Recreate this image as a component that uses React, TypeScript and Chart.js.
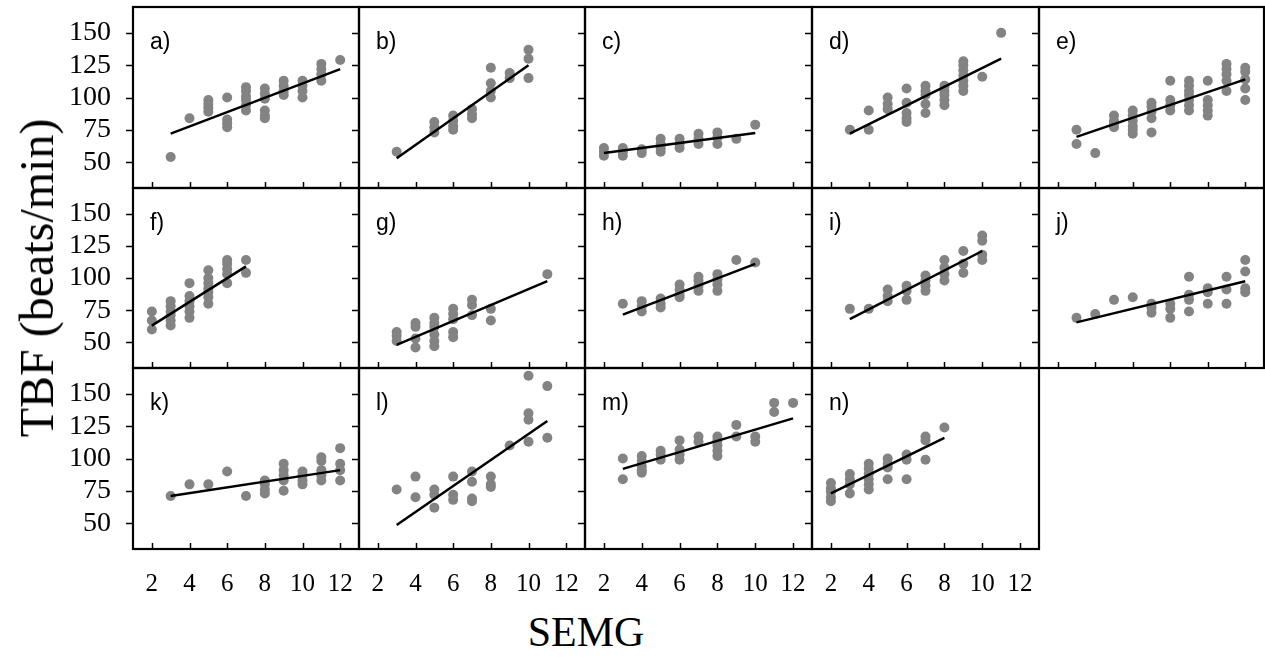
import React, { useEffect, useRef } from 'react';
import { Chart, registerables } from 'chart.js';

Chart.register(...registerables);

// ---------- data ----------
const xTicks = [2, 4, 6, 8, 10, 12];
const yTicks = [50, 75, 100, 125, 150];
const panelLabels = ['a)', 'b)', 'c)', 'd)', 'e)', 'f)', 'g)', 'h)', 'i)', 'j)', 'k)', 'l)', 'm)', 'n)'];

type P = [number, number];

const ptsA: P[] = [[3, 54], [4, 84], [5, 98], [5, 95], [5, 92], [5, 89], [6, 100], [6, 83], [6, 80], [6, 77],
  [7, 108], [7, 105], [7, 101], [7, 98], [7, 94], [7, 90], [8, 107], [8, 103], [8, 99], [8, 90], [8, 86], [8, 84],
  [9, 113], [9, 109], [9, 105], [9, 102], [10, 113], [10, 109], [10, 105], [10, 100], [11, 126], [11, 122], [11, 118], [11, 113], [12, 129]];
const fitA: P[] = [[3, 72], [12, 122]];

const ptsB: P[] = [[3, 58], [5, 81], [5, 77], [5, 73], [6, 86], [6, 82], [6, 78], [6, 75], [7, 91], [7, 87], [7, 84],
  [8, 123], [8, 111], [8, 105], [8, 100], [9, 119], [9, 115], [10, 137], [10, 130], [10, 115]];
const fitB: P[] = [[3, 53], [10, 125]];

const ptsC: P[] = [[2, 61], [2, 58], [2, 55], [3, 61], [3, 58], [3, 55], [4, 60], [4, 57], [5, 68], [5, 64], [5, 61], [5, 58],
  [6, 68], [6, 64], [6, 61], [7, 72], [7, 68], [7, 64], [8, 73], [8, 69], [8, 64], [9, 68], [10, 79]];
const fitC: P[] = [[2, 57], [10, 72.5]];

const ptsD: P[] = [[3, 75], [4, 90], [4, 75], [5, 100], [5, 95], [5, 91], [6, 107], [6, 96], [6, 88], [6, 84], [6, 81],
  [7, 109], [7, 105], [7, 102], [7, 95], [7, 88], [8, 109], [8, 105], [8, 102], [8, 98], [8, 94],
  [9, 128], [9, 125], [9, 121], [9, 117], [9, 113], [9, 109], [9, 105], [10, 116], [11, 150]];
const fitD: P[] = [[3, 72], [11, 130]];

const ptsE: P[] = [[3, 75], [3, 64], [4, 57], [5, 86], [5, 82], [5, 80], [5, 77], [6, 90], [6, 86], [6, 82], [6, 78], [6, 75], [6, 72],
  [7, 96], [7, 93], [7, 89], [7, 84], [7, 73], [8, 113], [8, 98], [8, 94], [8, 90],
  [9, 113], [9, 109], [9, 105], [9, 102], [9, 98], [9, 94], [9, 90], [10, 113], [10, 98], [10, 94], [10, 90], [10, 86],
  [11, 126], [11, 122], [11, 118], [11, 113], [11, 105], [12, 123], [12, 120], [12, 114], [12, 107], [12, 98]];
const fitE: P[] = [[3, 69.5], [12, 114]];

const ptsF: P[] = [[2, 74], [2, 67], [2, 60], [3, 82], [3, 78], [3, 74], [3, 71], [3, 67], [3, 63],
  [4, 96], [4, 86], [4, 82], [4, 78], [4, 74], [4, 69], [5, 106], [5, 100], [5, 96], [5, 92], [5, 89], [5, 85], [5, 80],
  [6, 114], [6, 111], [6, 107], [6, 103], [6, 96], [7, 114], [7, 104]];
const fitF: P[] = [[2, 63], [7, 109]];

const ptsG: P[] = [[3, 58], [3, 55], [3, 51], [4, 65], [4, 62], [4, 53], [4, 46], [5, 69], [5, 65], [5, 62], [5, 56], [5, 51], [5, 47],
  [6, 76], [6, 72], [6, 68], [6, 58], [6, 54], [7, 83], [7, 79], [7, 71], [8, 76], [8, 67], [11, 103]];
const fitG: P[] = [[3, 48], [11, 97.5]];

const ptsH: P[] = [[3, 80], [4, 82], [4, 78], [4, 74], [5, 84], [5, 80], [5, 77], [6, 95], [6, 91], [6, 87], [6, 85],
  [7, 101], [7, 98], [7, 94], [7, 90], [8, 103], [8, 99], [8, 95], [8, 90], [9, 114], [10, 112]];
const fitH: P[] = [[3, 71.5], [10, 111]];

const ptsI: P[] = [[3, 76], [4, 76], [5, 91], [5, 86], [5, 82], [6, 94], [6, 90], [6, 83], [7, 102], [7, 98], [7, 94], [7, 90],
  [8, 114], [8, 108], [8, 103], [8, 98], [9, 121], [9, 111], [9, 104], [10, 133], [10, 129], [10, 118], [10, 114]];
const fitI: P[] = [[3, 68], [10, 121]];

const ptsJ: P[] = [[3, 69], [4, 72], [5, 83], [6, 85], [7, 80], [7, 77], [7, 73], [8, 80], [8, 76], [8, 69],
  [9, 101], [9, 87], [9, 83], [9, 74], [10, 92], [10, 89], [10, 80], [11, 101], [11, 91], [11, 80], [12, 114], [12, 105], [12, 92], [12, 89]];
const fitJ: P[] = [[3, 65.5], [12, 97.5]];

const ptsK: P[] = [[3, 71], [4, 80], [5, 80], [6, 90], [7, 71], [8, 83], [8, 80], [8, 76], [8, 73], [9, 96], [9, 91], [9, 87], [9, 83], [9, 75],
  [10, 90], [10, 87], [10, 83], [10, 80], [11, 101], [11, 98], [11, 91], [11, 87], [11, 83], [12, 108], [12, 96], [12, 91], [12, 83]];
const fitK: P[] = [[3, 71], [12, 91]];

const ptsL: P[] = [[3, 76], [4, 86], [4, 70], [5, 76], [5, 72], [5, 62], [6, 86], [6, 72], [6, 68], [7, 90], [7, 82], [7, 69], [7, 67],
  [8, 86], [8, 80], [8, 78], [9, 110], [10, 164], [10, 135], [10, 130], [10, 113], [11, 156], [11, 116]];
const fitL: P[] = [[3, 48.5], [11, 129]];

const ptsM: P[] = [[3, 100], [3, 84], [4, 102], [4, 98], [4, 94], [4, 91], [4, 89], [5, 106], [5, 103], [5, 99],
  [6, 114], [6, 107], [6, 103], [6, 99], [7, 117], [7, 113], [8, 117], [8, 114], [8, 110], [8, 106], [8, 102],
  [9, 126], [9, 117], [10, 117], [10, 113], [11, 143], [11, 136], [12, 143]];
const fitM: P[] = [[3, 92], [12, 131]];

const ptsN: P[] = [[2, 81], [2, 77], [2, 74], [2, 70], [2, 67], [3, 88], [3, 84], [3, 80], [3, 73],
  [4, 96], [4, 92], [4, 88], [4, 84], [4, 80], [4, 76], [5, 100], [5, 96], [5, 93], [5, 84], [6, 103], [6, 99], [6, 84],
  [7, 117], [7, 114], [7, 99], [8, 124]];
const fitN: P[] = [[2, 73], [8, 116]];

const allPts = [ptsA, ptsB, ptsC, ptsD, ptsE, ptsF, ptsG, ptsH, ptsI, ptsJ, ptsK, ptsL, ptsM, ptsN];
const allFits = [fitA, fitB, fitC, fitD, fitE, fitF, fitG, fitH, fitI, fitJ, fitK, fitL, fitM, fitN];

// ---------- layout ----------
const COL_EDGES = [133, 359, 585, 812, 1039, 1264];
const ROW_EDGES = [7, 188, 368, 549];
const SERIF = "'Liberation Serif', 'Times New Roman', serif";
const SANS = "'Liberation Sans', Arial, sans-serif";

function Panel({ index }: { index: number }) {
  const ref = useRef<HTMLCanvasElement>(null);
  const row = Math.floor(index / 5);
  const col = index % 5;
  const left = COL_EDGES[col];
  const right = COL_EDGES[col + 1];
  const top = ROW_EDGES[row];
  const bottom = ROW_EDGES[row + 1];
  const isLeft = col === 0;
  const isBottom = row === 2;
  const padL = isLeft ? left : 12;
  const padB = isBottom ? 50 : 4;
  const padT = 3;
  const padR = 3;
  const w = padL + (right - left) + padR;
  const h = padT + (bottom - top) + padB;

  useEffect(() => {
    const canvas = ref.current!;
    const framePlugin = {
      id: 'frame',
      afterDraw(chart: any) {
        const { ctx, chartArea } = chart;
        const xs = chart.scales.x;
        const ys = chart.scales.y;
        ctx.save();
        ctx.strokeStyle = '#000';
        ctx.lineWidth = 2.2;
        ctx.strokeRect(chartArea.left, chartArea.top, chartArea.right - chartArea.left, chartArea.bottom - chartArea.top);
        ctx.lineWidth = 1.5;
        ctx.beginPath();
        for (const v of yTicks) {
          const py = Math.round(ys.getPixelForValue(v)) + 0.5;
          ctx.moveTo(chartArea.left - 7, py);
          ctx.lineTo(chartArea.left, py);
        }
        for (const v of xTicks) {
          const px = Math.round(xs.getPixelForValue(v)) + 0.5;
          ctx.moveTo(px, chartArea.bottom);
          ctx.lineTo(px, chartArea.bottom - 6);
        }
        ctx.stroke();
        ctx.fillStyle = '#000';
        ctx.font = `23px ${SANS}`;
        ctx.textBaseline = 'alphabetic';
        ctx.textAlign = 'left';
        ctx.fillText(panelLabels[index], chartArea.left + 17, chartArea.top + 42);
        ctx.restore();
      },
    };

    const chart = new Chart(canvas, {
      type: 'scatter',
      data: {
        datasets: [
          {
            data: allFits[index].map(([x, y]) => ({ x, y })),
            showLine: true,
            borderColor: '#000',
            borderWidth: 2.5,
            pointRadius: 0,
            fill: false,
          } as any,
          {
            data: allPts[index].map(([x, y]) => ({ x, y })),
            pointRadius: 5,
            pointBackgroundColor: '#838383',
            pointBorderWidth: 0,
            pointBorderColor: '#838383',
          },
        ],
      },
      options: {
        responsive: false,
        animation: false,
        layout: { padding: { top: padT, right: padR, left: 0, bottom: 0 }, autoPadding: false } as any,
        plugins: { legend: { display: false }, tooltip: { enabled: false } },
        scales: {
          x: {
            type: 'linear',
            min: 1,
            max: 13,
            grid: { display: false },
            border: { display: false },
            ticks: {
              display: isBottom,
              autoSkip: false,
              maxRotation: 0,
              padding: 12,
              color: '#000',
              font: { family: SERIF, size: 25 },
            },
            afterBuildTicks: (s: any) => {
              s.ticks = xTicks.map((v) => ({ value: v }));
            },
            afterFit: (s: any) => {
              s.height = padB;
              s.paddingLeft = 0;
              s.paddingRight = 0;
              s.paddingTop = 0;
              s.paddingBottom = 0;
            },
          },
          y: {
            type: 'linear',
            min: 30,
            max: 170,
            grid: { display: false },
            border: { display: false },
            ticks: {
              display: isLeft,
              autoSkip: false,
              padding: 14,
              color: '#000',
              font: { family: SERIF, size: 28 },
            },
            afterBuildTicks: (s: any) => {
              s.ticks = yTicks.map((v) => ({ value: v }));
            },
            afterFit: (s: any) => {
              s.width = padL;
              s.paddingLeft = 0;
              s.paddingRight = 0;
              s.paddingTop = 0;
              s.paddingBottom = 0;
            },
          },
        },
      },
      plugins: [framePlugin],
    });
    return () => chart.destroy();
  }, []);

  return (
    <canvas
      ref={ref}
      width={w}
      height={h}
      style={{ position: 'absolute', left: left - padL, top: top - padT, width: w, height: h }}
    />
  );
}

export default function App() {
  return (
    <div style={{ position: 'absolute', left: 0, top: 0, width: 1265, height: 658, background: '#fff', overflow: 'hidden' }}>
      {allPts.map((_, i) => (
        <Panel key={i} index={i} />
      ))}
      <div
        style={{
          position: 'absolute',
          left: 37,
          top: 278,
          transform: 'translate(-50%, -50%) rotate(-90deg)',
          fontFamily: SERIF,
          fontSize: 48,
          lineHeight: 1,
          whiteSpace: 'nowrap',
          color: '#000',
        }}
      >
        TBF (beats/min)
      </div>
      <div
        style={{
          position: 'absolute',
          left: 586,
          top: 632,
          transform: 'translate(-50%, -50%)',
          fontFamily: SERIF,
          fontSize: 42,
          lineHeight: 1,
          whiteSpace: 'nowrap',
          color: '#000',
        }}
      >
        SEMG
      </div>
    </div>
  );
}
